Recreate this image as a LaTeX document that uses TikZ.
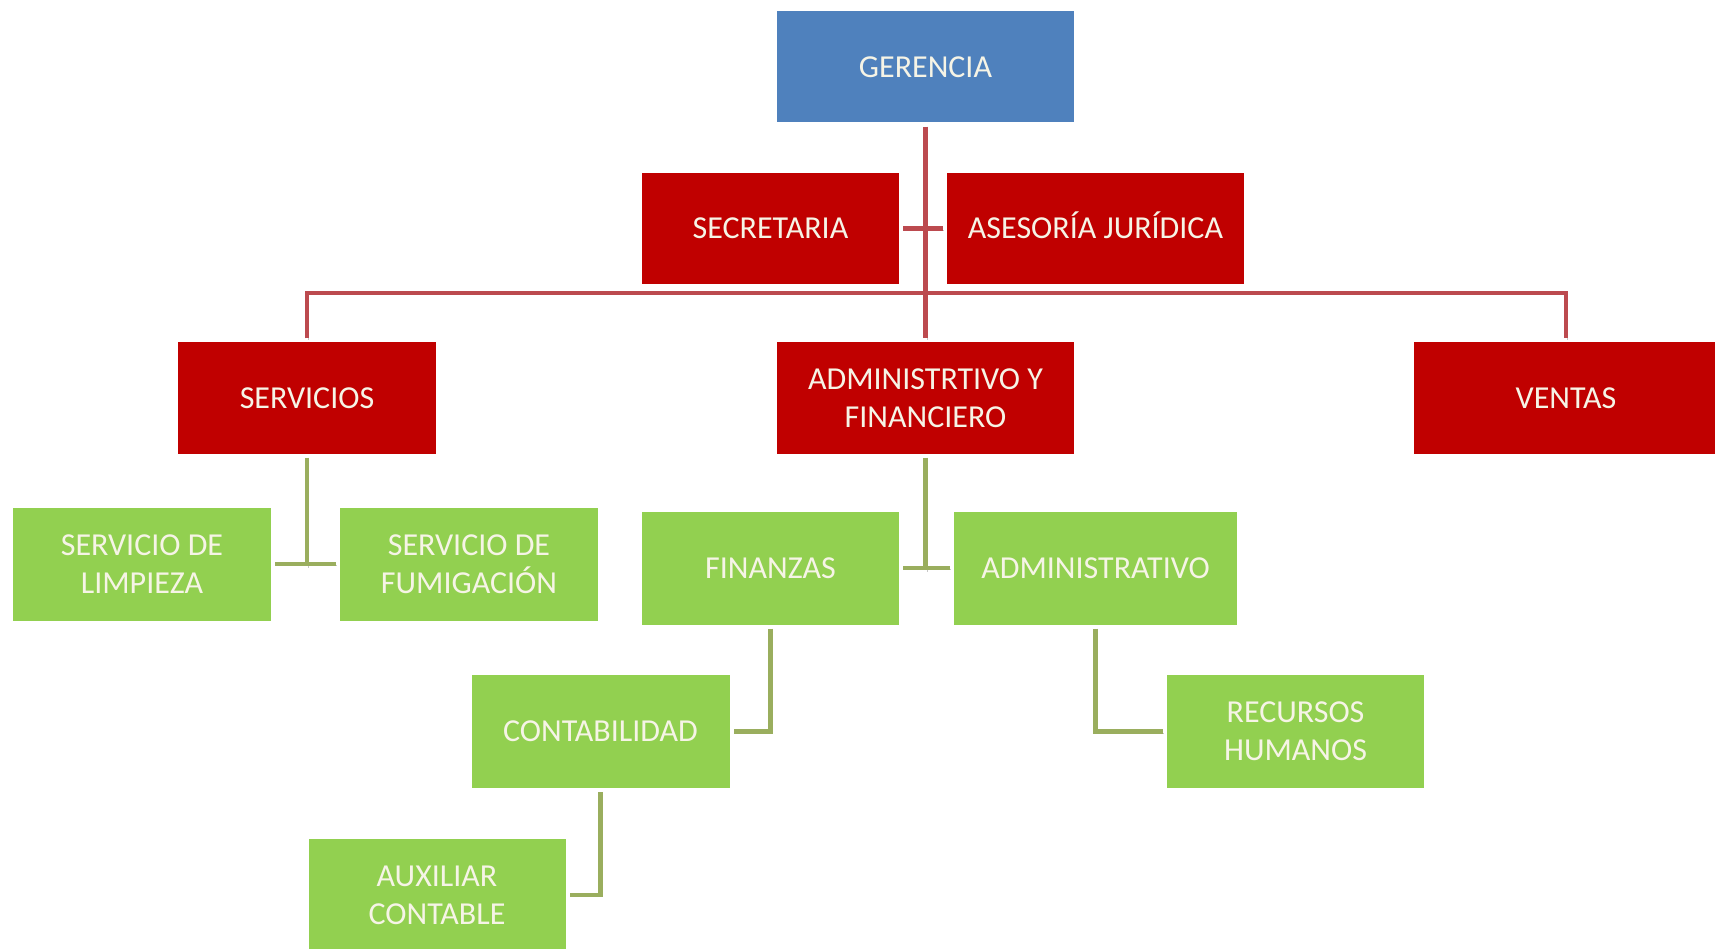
\documentclass[tikz,border=0pt]{standalone}
\usepackage{fontspec}
\setmainfont{Carlito}
\definecolor{jefe}{HTML}{4F81BD}
\definecolor{area}{HTML}{C00000}
\definecolor{seccion}{HTML}{92D050}
\definecolor{rojolinea}{HTML}{BC4A4F}
\definecolor{verdelinea}{HTML}{9AAE5E}
\definecolor{letra}{HTML}{F6F4E6}
\tikzset{
  caja/.style={rectangle, inner sep=0pt, align=center, text=letra,
    font=\fontsize{32}{38}\selectfont, minimum height=111},
  cajaazul/.style={caja, fill=jefe},
  cajaroja/.style={caja, fill=area},
  cajaverde/.style={caja, fill=seccion, minimum height=113},
  linea/.style={line width=4.5pt, shorten <=4pt, shorten >=4pt,
    preaction={draw=black!22, transform canvas={shift={(1.5pt,-1.5pt)}}}},
  linearoja/.style={linea, draw=rojolinea},
  lineaverde/.style={linea, draw=verdelinea}
}
\begin{document}
\begin{tikzpicture}[x=1pt, y=-1pt]
  \path[use as bounding box] (0,0) rectangle (1715,949);

  % Gerencia y apoyo
  \node[cajaazul, minimum width=297] (ger) at (925.5,67) {GERENCIA};
  \node[cajaroja, minimum width=257] (sec) at (770.5,228.5) {SECRETARIA};
  \node[cajaroja, minimum width=297, text height=20.6pt] (ase) at (1095.5,228.5) {ASESORÍA JURÍDICA};

  % Areas
  \node[cajaroja, minimum width=258] (serv) at (307,398) {SERVICIOS};
  \node[cajaroja, minimum width=297] (adm) at (925.5,398) {ADMINISTRTIVO Y\\FINANCIERO};
  \node[cajaroja, minimum width=304] (ven) at (1566,398) {VENTAS};

  % Secciones
  \node[cajaverde, minimum width=258] (limp) at (142,564) {SERVICIO DE\\LIMPIEZA};
  \node[cajaverde, minimum width=258] (fum) at (469,564) {SERVICIO DE\\FUMIGACIÓN};
  \node[cajaverde, minimum width=257] (fin) at (770.5,568) {FINANZAS};
  \node[cajaverde, minimum width=283] (admi) at (1095.5,568) {ADMINISTRATIVO};
  \node[cajaverde, minimum width=258] (cont) at (600.5,731.5) {CONTABILIDAD};
  \node[cajaverde, minimum width=257] (rrhh) at (1295.5,731.5) {RECURSOS\\HUMANOS};
  \node[cajaverde, minimum width=257] (aux) at (437,895) {AUXILIAR\\CONTABLE};

  % Lineas rojas
  \coordinate (barra) at (925.5,293);
  \draw[linearoja] (ger) -- (adm);
  \draw[linearoja] (sec) -- (ase);
  \draw[linearoja] (serv.north) |- (barra) -| (ven.north);

  % Lineas verdes
  \foreach \arriba/\izq/\der in {serv/limp/fum, adm/fin/admi} {
    \draw[lineaverde] (\izq) -- (\der);
    \draw[lineaverde, shorten >=-2pt] (\arriba.south) -- (\arriba.south |- \izq.east);
  }
  \draw[lineaverde] (fin.south) |- (cont.east);
  \draw[lineaverde] (admi.south) |- (rrhh.west);
  \draw[lineaverde] (cont.south) |- (aux.east);
\end{tikzpicture}
\end{document}
